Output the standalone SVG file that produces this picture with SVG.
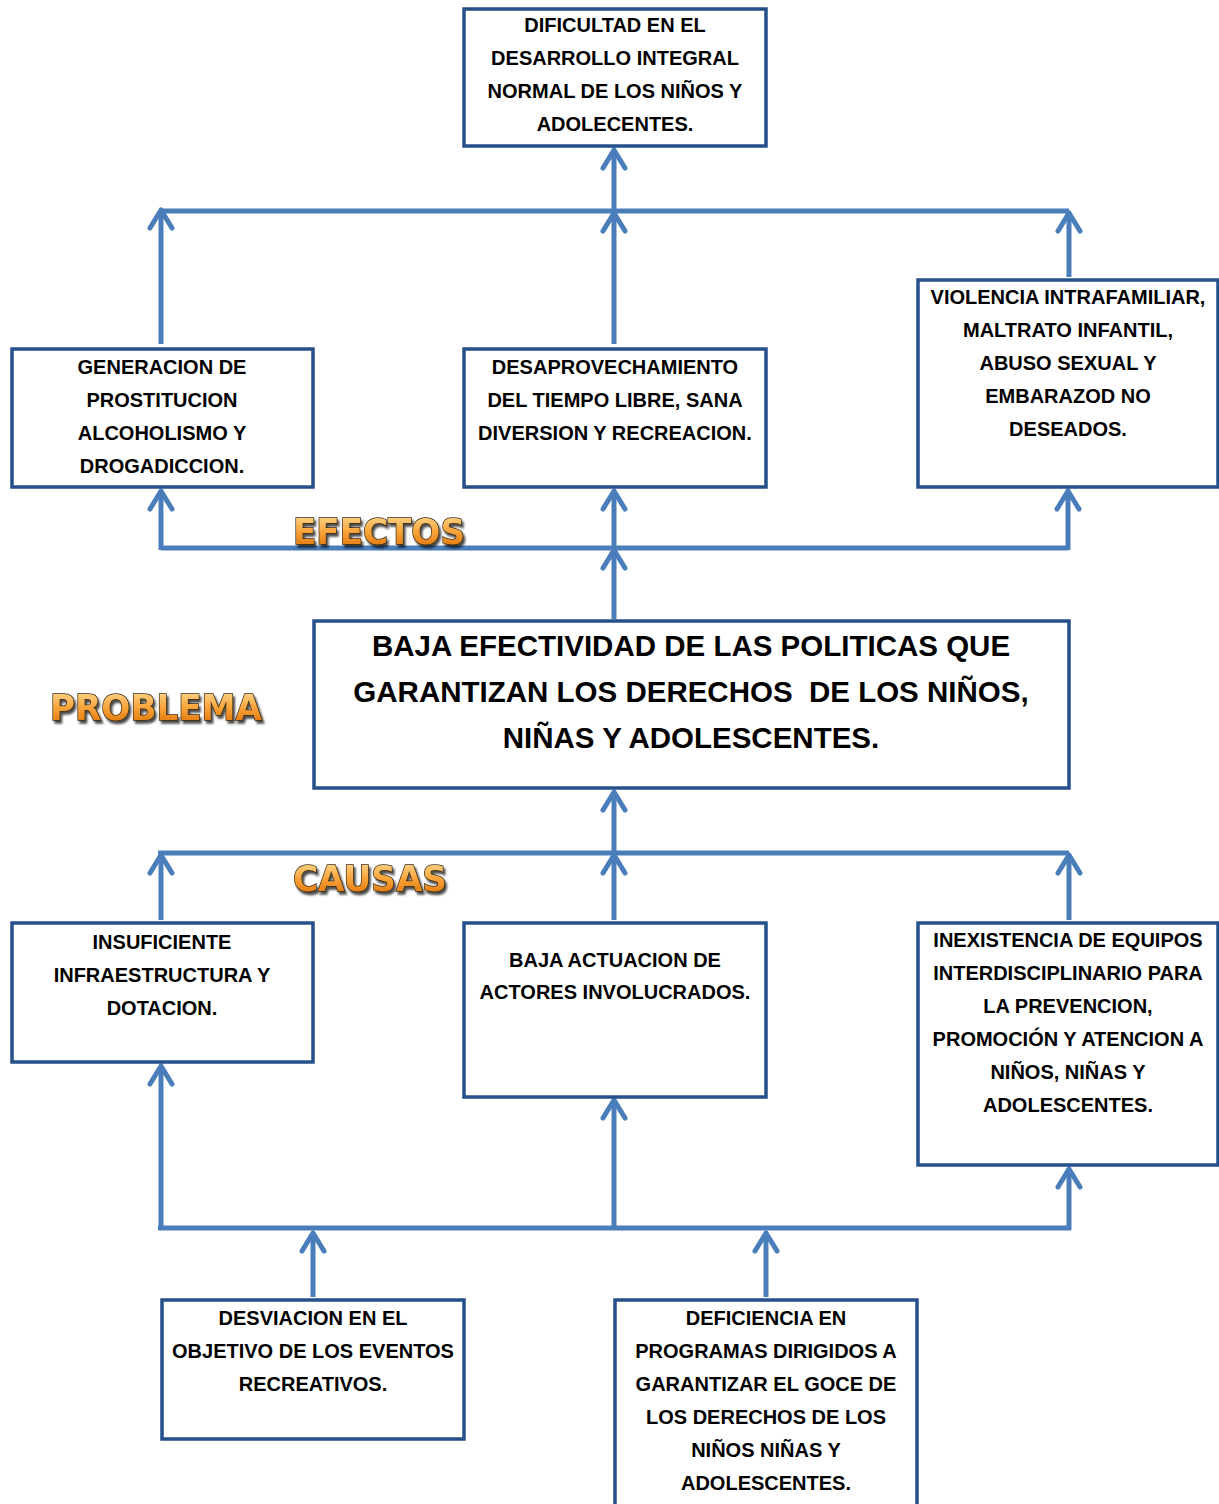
<svg xmlns="http://www.w3.org/2000/svg" width="1219" height="1504" viewBox="0 0 1219 1504">
<style>
.box{fill:#fff;stroke:#25508A;stroke-width:3.5}
.t{font-family:"Liberation Sans",Arial,sans-serif;font-weight:bold;font-size:20px;fill:#000;text-anchor:middle}
.big{font-size:29.5px;white-space:pre}
.c{fill:none;stroke:#4A7EBB;stroke-width:5}
.lab{font-family:"DejaVu Sans","Liberation Sans",sans-serif;font-weight:bold;font-size:36px;fill:url(#og);stroke:#3a2a10;stroke-width:1.5;paint-order:stroke;filter:url(#sh)}
</style>
<defs>
<marker id="ah" markerUnits="userSpaceOnUse" markerWidth="40" markerHeight="40" viewBox="-25 -20 40 40" refX="0" refY="0" orient="auto">
<path d="M-18,-11 L0,0 L-18,11" fill="none" stroke="#4A7EBB" stroke-width="5" stroke-linecap="round" stroke-linejoin="round"/>
</marker>
<linearGradient id="og" x1="0" y1="0" x2="0" y2="1">
<stop offset="0" stop-color="#FFE3A0"/>
<stop offset="0.5" stop-color="#F9A43A"/>
<stop offset="1" stop-color="#D96A00"/>
</linearGradient>
<filter id="sh" x="-10%" y="-20%" width="120%" height="150%">
<feDropShadow dx="2" dy="3" stdDeviation="1.2" flood-color="#000" flood-opacity="0.7"/>
</filter>
</defs>

<g id="connectors">
<path class="c" d="M161,211 L1069,211"/>
<path class="c" d="M614,211 L614,150" marker-end="url(#ah)"/>
<path class="c" d="M161,344 L161,210" marker-end="url(#ah)"/>
<path class="c" d="M614,344 L614,213" marker-end="url(#ah)"/>
<path class="c" d="M1069,277 L1069,213" marker-end="url(#ah)"/>

<path class="c" d="M161,548 L1068,548"/>
<path class="c" d="M161,550 L161,491" marker-end="url(#ah)"/>
<path class="c" d="M614,548 L614,491" marker-end="url(#ah)"/>
<path class="c" d="M1068,550 L1068,491" marker-end="url(#ah)"/>
<path class="c" d="M614,619 L614,550" marker-end="url(#ah)"/>

<path class="c" d="M158,853 L1069,853"/>
<path class="c" d="M614,853 L614,792" marker-end="url(#ah)"/>
<path class="c" d="M161,920 L161,855" marker-end="url(#ah)"/>
<path class="c" d="M614,920 L614,855" marker-end="url(#ah)"/>
<path class="c" d="M1069,920 L1069,855" marker-end="url(#ah)"/>

<path class="c" d="M158,1228 L1071,1228"/>
<path class="c" d="M161,1230 L161,1066" marker-end="url(#ah)"/>
<path class="c" d="M614,1228 L614,1100" marker-end="url(#ah)"/>
<path class="c" d="M1069,1230 L1069,1169" marker-end="url(#ah)"/>
<path class="c" d="M313,1297 L313,1233" marker-end="url(#ah)"/>
<path class="c" d="M766,1297 L766,1233" marker-end="url(#ah)"/>
</g>

<g id="n-top">
<rect class="box" x="464" y="9" width="302" height="137"/>
<text class="t"><tspan x="615" y="32">DIFICULTAD EN EL</tspan><tspan x="615" y="65">DESARROLLO INTEGRAL</tspan><tspan x="615" y="98">NORMAL DE LOS NIÑOS Y</tspan><tspan x="615" y="131">ADOLECENTES.</tspan></text>
</g>

<g id="n-e1">
<rect class="box" x="12" y="349" width="301" height="138"/>
<text class="t"><tspan x="162" y="374">GENERACION DE</tspan><tspan x="162" y="407">PROSTITUCION</tspan><tspan x="162" y="440">ALCOHOLISMO Y</tspan><tspan x="162" y="473">DROGADICCION.</tspan></text>
</g>

<g id="n-e2">
<rect class="box" x="464" y="349" width="302" height="138"/>
<text class="t"><tspan x="615" y="374">DESAPROVECHAMIENTO</tspan><tspan x="615" y="407">DEL TIEMPO LIBRE, SANA</tspan><tspan x="615" y="440">DIVERSION Y RECREACION.</tspan></text>
</g>

<g id="n-e3">
<rect class="box" x="918" y="280" width="300" height="207"/>
<text class="t"><tspan x="1068" y="304">VIOLENCIA INTRAFAMILIAR,</tspan><tspan x="1068" y="337">MALTRATO INFANTIL,</tspan><tspan x="1068" y="370">ABUSO SEXUAL Y</tspan><tspan x="1068" y="403">EMBARAZOD NO</tspan><tspan x="1068" y="436">DESEADOS.</tspan></text>
</g>

<g id="n-problem">
<rect class="box" x="314" y="621" width="755" height="167"/>
<text class="t big"><tspan x="691" y="656">BAJA EFECTIVIDAD DE LAS POLITICAS QUE</tspan><tspan x="691" y="702">GARANTIZAN LOS DERECHOS  DE LOS NIÑOS,</tspan><tspan x="691" y="748">NIÑAS Y ADOLESCENTES.</tspan></text>
</g>

<g id="n-c1">
<rect class="box" x="12" y="923" width="301" height="139"/>
<text class="t"><tspan x="162" y="949">INSUFICIENTE</tspan><tspan x="162" y="982">INFRAESTRUCTURA Y</tspan><tspan x="162" y="1015">DOTACION.</tspan></text>
</g>

<g id="n-c2">
<rect class="box" x="464" y="923" width="302" height="174"/>
<text class="t"><tspan x="615" y="967">BAJA ACTUACION DE</tspan><tspan x="615" y="999">ACTORES INVOLUCRADOS.</tspan></text>
</g>

<g id="n-c3">
<rect class="box" x="918" y="923" width="300" height="242"/>
<text class="t"><tspan x="1068" y="947">INEXISTENCIA DE EQUIPOS</tspan><tspan x="1068" y="980">INTERDISCIPLINARIO PARA</tspan><tspan x="1068" y="1013">LA PREVENCION,</tspan><tspan x="1068" y="1046">PROMOCIÓN Y ATENCION A</tspan><tspan x="1068" y="1079">NIÑOS, NIÑAS Y</tspan><tspan x="1068" y="1112">ADOLESCENTES.</tspan></text>
</g>

<g id="n-b1">
<rect class="box" x="162" y="1300" width="302" height="139"/>
<text class="t"><tspan x="313" y="1325">DESVIACION EN EL</tspan><tspan x="313" y="1358">OBJETIVO DE LOS EVENTOS</tspan><tspan x="313" y="1391">RECREATIVOS.</tspan></text>
</g>

<g id="n-b2">
<rect class="box" x="615" y="1300" width="302" height="214"/>
<text class="t"><tspan x="766" y="1325">DEFICIENCIA EN</tspan><tspan x="766" y="1358">PROGRAMAS DIRIGIDOS A</tspan><tspan x="766" y="1391">GARANTIZAR EL GOCE DE</tspan><tspan x="766" y="1424">LOS DERECHOS DE LOS</tspan><tspan x="766" y="1457">NIÑOS NIÑAS Y</tspan><tspan x="766" y="1490">ADOLESCENTES.</tspan></text>
</g>

<g id="labels">
<text class="lab" x="293" y="544" textLength="172" lengthAdjust="spacingAndGlyphs">EFECTOS</text>
<text class="lab" x="50" y="720" textLength="212" lengthAdjust="spacingAndGlyphs">PROBLEMA</text>
<text class="lab" x="293" y="891" textLength="154" lengthAdjust="spacingAndGlyphs">CAUSAS</text>
</g>
</svg>
